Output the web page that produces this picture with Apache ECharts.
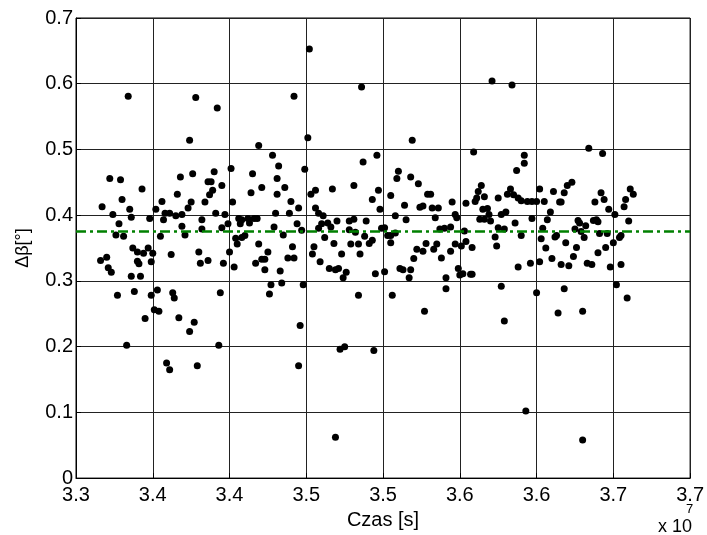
<!DOCTYPE html>
<html>
<head>
<meta charset="utf-8">
<title>Δβ vs czas</title>
<script src="https://cdn.jsdelivr.net/npm/echarts@6/dist/echarts.min.js"></script>
<style>
  html, body { margin: 0; padding: 0; background: #fff; }
  #chart { width: 707px; height: 535px; }
</style>
</head>
<body>
<div id="chart"></div>
<script>
// czas in units of 1e7 s, delta beta in degrees
const xTickLabels = ["3.3", "3.4", "3.4", "3.5", "3.5", "3.6", "3.6", "3.7", "3.7"];
const yTickLabels = ["0", "0.1", "0.2", "0.3", "0.4", "0.5", "0.6", "0.7"];
const xRange = [3.3, 3.7];
const meanDeltaBeta = 0.375;

const samples = [
  // upper outliers
  [3.334,0.581],[3.378,0.579],[3.392,0.563],[3.374,0.514],[3.419,0.506],[3.428,0.491],[3.452,0.653],[3.442,0.581],
  [3.486,0.595],[3.451,0.518],[3.519,0.514],[3.496,0.491],[3.559,0.496],[3.571,0.604],[3.584,0.598],[3.634,0.502],
  [3.643,0.494],[3.592,0.491],
  // 3.3 - 3.44
  [3.322,0.456],[3.329,0.454],[3.343,0.440],[3.368,0.458],[3.376,0.463],[3.390,0.466],[3.401,0.471],[3.415,0.463],
  [3.432,0.475],[3.431,0.456],[3.436,0.442],[3.421,0.442],[3.414,0.434],[3.431,0.432],[3.386,0.451],[3.388,0.451],
  [3.395,0.445],[3.389,0.438],[3.387,0.431],[3.384,0.420],[3.375,0.420],[3.373,0.411],[3.366,0.432],[3.356,0.421],
  [3.352,0.409],[3.330,0.424],[3.335,0.409],[3.317,0.413],[3.324,0.401],[3.336,0.397],[3.328,0.387],[3.348,0.395],
  [3.357,0.393],[3.358,0.403],[3.361,0.403],[3.365,0.399],[3.369,0.401],[3.382,0.393],[3.391,0.403],[3.397,0.401],
  [3.402,0.420],[3.399,0.387],[3.395,0.381],[3.382,0.379],[3.369,0.383],[3.371,0.370],[3.355,0.368],[3.331,0.368],
  [3.326,0.370],[3.337,0.350],[3.340,0.344],[3.344,0.342],[3.347,0.350],[3.350,0.342],[3.340,0.330],[3.341,0.326],
  [3.349,0.329],[3.320,0.336],[3.316,0.331],[3.321,0.320],[3.323,0.313],[3.336,0.307],[3.342,0.307],[3.362,0.340],
  [3.380,0.344],[3.381,0.327],[3.386,0.331],[3.396,0.327],[3.400,0.344],[3.403,0.321],[3.404,0.365],[3.405,0.356],
  [3.408,0.366],[3.410,0.369],[3.406,0.395],[3.408,0.393],[3.412,0.395],[3.413,0.388],[3.416,0.395],[3.418,0.395],
  [3.407,0.387],[3.430,0.403],[3.429,0.382],[3.435,0.370],[3.419,0.356],[3.425,0.344],[3.421,0.333],[3.423,0.333],
  [3.417,0.327],[3.423,0.317],[3.433,0.315],[3.427,0.294],[3.434,0.297],[3.426,0.280],[3.394,0.282],[3.363,0.282],
  [3.364,0.274],[3.353,0.286],[3.349,0.278],[3.338,0.284],[3.327,0.278],[3.351,0.256],[3.354,0.254],[3.345,0.243],
  [3.367,0.244],[3.377,0.237],[3.374,0.223],
  // 3.44 - 3.57
  [3.449,0.470],[3.487,0.481],[3.453,0.432],[3.456,0.438],[3.467,0.440],[3.481,0.445],[3.497,0.438],[3.510,0.467],
  [3.509,0.456],[3.518,0.458],[3.523,0.448],[3.529,0.432],[3.531,0.432],[3.505,0.430],[3.514,0.415],[3.524,0.412],
  [3.526,0.414],[3.532,0.411],[3.536,0.411],[3.545,0.420],[3.554,0.418],[3.564,0.445],[3.562,0.436],[3.561,0.426],
  [3.560,0.421],[3.566,0.428],[3.565,0.409],[3.568,0.410],[3.569,0.401],[3.570,0.391],[3.566,0.394],[3.563,0.394],
  [3.547,0.401],[3.548,0.396],[3.534,0.396],[3.515,0.393],[3.508,0.399],[3.498,0.409],[3.493,0.424],[3.489,0.391],
  [3.481,0.394],[3.478,0.391],[3.470,0.391],[3.464,0.388],[3.461,0.399],[3.458,0.403],[3.456,0.411],[3.445,0.411],
  [3.440,0.421],[3.439,0.403],[3.444,0.387],[3.447,0.377],[3.458,0.380],[3.460,0.387],[3.466,0.382],[3.478,0.378],
  [3.482,0.374],[3.488,0.368],[3.499,0.380],[3.501,0.381],[3.503,0.369],[3.505,0.369],[3.508,0.373],[3.505,0.358],
  [3.491,0.357],[3.493,0.362],[3.484,0.356],[3.479,0.356],[3.485,0.341],[3.473,0.341],[3.468,0.357],[3.462,0.366],
  [3.455,0.352],[3.454,0.341],[3.441,0.352],[3.438,0.335],[3.442,0.335],[3.459,0.329],[3.465,0.319],[3.469,0.317],
  [3.471,0.319],[3.476,0.313],[3.474,0.305],[3.495,0.311],[3.501,0.314],[3.511,0.319],[3.513,0.317],[3.517,0.305],
  [3.518,0.317],[3.520,0.334],[3.522,0.348],[3.526,0.345],[3.528,0.357],[3.535,0.356],[3.533,0.348],[3.538,0.335],
  [3.544,0.345],[3.547,0.356],[3.551,0.353],[3.558,0.351],[3.554,0.360],[3.553,0.376],[3.544,0.382],[3.540,0.380],
  [3.537,0.379],[3.549,0.319],[3.550,0.309],[3.552,0.311],[3.557,0.310],[3.558,0.310],[3.541,0.305],[3.541,0.288],
  [3.527,0.254],[3.506,0.278],[3.484,0.278],[3.448,0.294],[3.446,0.232],
  // 3.57 - 3.67
  [3.592,0.479],[3.587,0.468],[3.583,0.440],[3.581,0.432],[3.575,0.426],[3.585,0.431],[3.588,0.426],[3.590,0.422],
  [3.594,0.421],[3.597,0.421],[3.600,0.421],[3.602,0.440],[3.605,0.421],[3.611,0.436],[3.615,0.420],[3.616,0.420],
  [3.618,0.434],[3.620,0.445],[3.623,0.450],[3.609,0.405],[3.597,0.395],[3.607,0.393],[3.586,0.388],[3.580,0.405],
  [3.577,0.401],[3.575,0.381],[3.579,0.379],[3.573,0.367],[3.574,0.353],[3.590,0.369],[3.604,0.380],[3.603,0.364],
  [3.606,0.350],[3.612,0.367],[3.613,0.369],[3.619,0.358],[3.626,0.351],[3.624,0.337],[3.610,0.334],[3.602,0.329],
  [3.596,0.327],[3.588,0.321],[3.616,0.325],[3.621,0.323],[3.633,0.327],[3.636,0.325],[3.627,0.392],[3.628,0.388],
  [3.632,0.384],[3.625,0.379],[3.629,0.375],[3.631,0.366],[3.637,0.392],[3.639,0.393],[3.640,0.390],[3.638,0.420],
  [3.642,0.434],[3.644,0.424],[3.647,0.409],[3.651,0.401],[3.657,0.413],[3.658,0.424],[3.661,0.440],[3.663,0.432],
  [3.660,0.391],[3.641,0.372],[3.646,0.372],[3.645,0.351],[3.640,0.343],[3.650,0.358],[3.654,0.366],[3.655,0.369],
  [3.655,0.325],[3.648,0.321],[3.652,0.294],[3.659,0.274],[3.630,0.254],[3.614,0.251],[3.618,0.288],[3.600,0.282],
  [3.577,0.292],[3.579,0.239],
  // lower outliers
  [3.333,0.202],[3.393,0.202],[3.359,0.175],[3.361,0.165],[3.379,0.171],[3.472,0.196],[3.475,0.200],[3.494,0.194],
  [3.445,0.171],[3.469,0.062],[3.593,0.102],[3.630,0.058]
];

const meanLine = [[xRange[0], meanDeltaBeta], [xRange[1], meanDeltaBeta]];

const font = "'Liberation Sans', Arial, sans-serif";
const chart = echarts.init(document.getElementById("chart"));

const option = {
  backgroundColor: "#fff",
  animation: false,
  grid: {
    left: 76, right: 14, top: 18, bottom: 53,
    show: true, borderColor: "#000", borderWidth: 1, backgroundColor: "transparent"
  },
  xAxis: {
    type: "value",
    min: xRange[0], max: xRange[1], interval: 0.05,
    name: "Czas [s]",
    nameLocation: "middle",
    nameGap: 30,
    nameTextStyle: { color: "#000", fontSize: 20, fontFamily: font },
    axisLine: { onZero: false, lineStyle: { color: "#000", width: 1 } },
    axisTick: { inside: true, length: 5, lineStyle: { color: "#000" } },
    splitLine: { show: true, lineStyle: { color: "#222", width: 1 } },
    axisLabel: {
      color: "#000", fontSize: 20, fontFamily: font, margin: 7,
      formatter: (v, i) => xTickLabels[i]
    }
  },
  yAxis: {
    type: "value",
    min: 0, max: 0.7, interval: 0.1,
    name: "Δβ[°]",
    nameLocation: "middle",
    nameRotate: 90,
    nameGap: 44,
    nameTextStyle: { color: "#000", fontSize: 18, fontFamily: font },
    axisLine: { lineStyle: { color: "#000", width: 1 } },
    axisTick: { inside: true, length: 5, lineStyle: { color: "#000" } },
    splitLine: { show: true, lineStyle: { color: "#222", width: 1 } },
    axisLabel: {
      color: "#000", fontSize: 20, fontFamily: font, margin: 3,
      formatter: (v, i) => yTickLabels[i]
    }
  },
  graphic: [
    { type: "text", right: 15, top: 518,
      style: { text: "x 10", fill: "#000", font: "18px " + font } },
    { type: "text", left: 686, top: 503,
      style: { text: "7", fill: "#000", font: "13px " + font } }
  ],
  series: [
    {
      type: "scatter",
      data: samples,
      symbol: "circle",
      symbolSize: 7,
      itemStyle: { color: "#000", opacity: 1 },
      z: 3
    },
    {
      type: "line",
      data: meanLine,
      symbol: "none",
      lineStyle: { color: "#008000", width: 2.5, type: [10, 4, 3, 4] },
      z: 4
    }
  ]
};

chart.setOption(option);
</script>
</body>
</html>
